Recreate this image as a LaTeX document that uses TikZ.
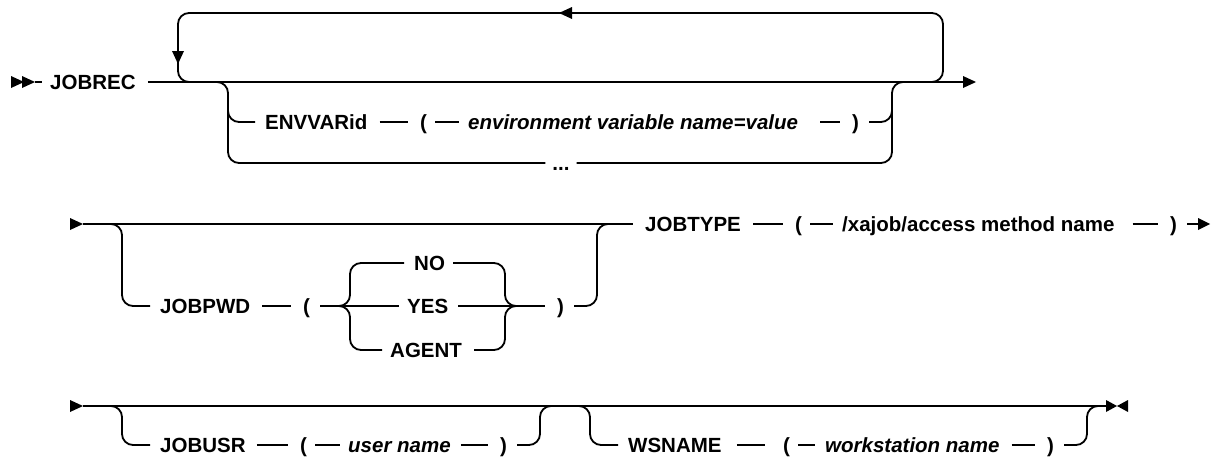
\documentclass[tikz,border=0pt]{standalone}
\usepackage{fontspec}
\setmainfont{Liberation Sans}
\begin{document}
\begin{tikzpicture}[x=1pt,y=-1pt,
  rail/.style={line width=1.8pt},
  rr/.style={rail,rounded corners=11pt},
  lbl/.style={anchor=west,inner sep=0pt,text height=14.7pt,text depth=0pt,font=\fontsize{20.5}{24}\selectfont\bfseries},
  var/.style={lbl,font=\fontsize{20.5}{24}\selectfont\bfseries\itshape}]
\useasboundingbox (0,0) rectangle (1211,458);
% ---------------- row 1
\node[lbl] (jobrec) at (50,82) {JOBREC};
\node[lbl] (envvar) at (265,122) {ENVVARid};
\node[lbl] (lp1) at (420,122) {(};
\node[var] (envval) at (468,122) {environment variable name=value};
\node[lbl] (rp1) at (852,122) {)};
\node[lbl,anchor=center] (dots) at (561,163) {...};
\coordinate (s1) at (35,82);
\coordinate (e1) at (963,82);
\fill (11,76) -- (24,82) -- (11,88) -- cycle;
\fill (22,76) -- (35,82) -- (22,88) -- cycle;
\draw[rail] (s1) -- ([xshift=-8pt]jobrec.west);
\draw[rail] ([xshift=12pt]jobrec.east) -- (e1);
\fill (963,76) -- (976,82) -- (963,88) -- cycle;
% repeat loop
\draw[rr] (925,82) -| (943,13) -| (178,82) -- (196,82);
\fill (559,13) -- (572,7) -- (572,19) -- cycle;
\fill (178,64) -- (172,51) -- (184,51) -- cycle;
% optional group
\draw[rr] (212,82) -| (228,163) -- ([xshift=-7pt]dots.west);
\draw[rr] (228,100) |- ([xshift=-10pt]envvar.west);
\draw[rail] ([xshift=12pt]envvar.east) -- ([xshift=-12pt]lp1.west);
\draw[rail] ([xshift=8pt]lp1.east) -- ([xshift=-9pt]envval.west);
\draw[rail] ([xshift=22pt]envval.east) -- ([xshift=-12pt]rp1.west);
\draw[rr] ([xshift=10pt]rp1.east) -| (892,100);
\draw[rr] ([xshift=7pt]dots.east) -| (892,82) -- (908,82);
% ---------------- row 2
\node[lbl] (jobpwd) at (160,306) {JOBPWD};
\node[lbl] (lp2) at (303,306) {(};
\node[lbl] (no) at (414,263) {NO};
\node[lbl] (yes) at (407,306) {YES};
\node[lbl] (agent) at (390,350) {AGENT};
\node[lbl] (rp2) at (557,306) {)};
\node[lbl] (jobtype) at (645,224) {JOBTYPE};
\node[lbl] (lp3) at (795,224) {(};
\node[lbl] (method) at (842,224) {/xajob/access method name};
\node[lbl] (rp3) at (1170,224) {)};
\coordinate (s2) at (83,224);
\coordinate (e2) at (1198,224);
\fill (70,218) -- (s2) -- (70,230) -- cycle;
\draw[rail] (s2) -- ([xshift=-12pt]jobtype.west);
\draw[rr] (108,224) -| (122,306) -- ([xshift=-10pt]jobpwd.west);
\draw[rail] ([xshift=12pt]jobpwd.east) -- ([xshift=-12pt]lp2.west);
\draw[rail] ([xshift=10pt]lp2.east) -- ([xshift=-8pt]yes.west);
\draw[rr] (336,306) -| (350,263) -- ([xshift=-10pt]no.west);
\draw[rr] (336,306) -| (350,350) -- ([xshift=-8pt]agent.west);
\draw[rr] ([xshift=8pt]no.east) -| (505,306) -- (520,306);
\draw[rr] ([xshift=12pt]agent.east) -| (505,306) -- (520,306);
\draw[rail] ([xshift=10pt]yes.east) -- ([xshift=-12pt]rp2.west);
\draw[rr] ([xshift=10pt]rp2.east) -| (597,224) -- (612,224);
\draw[rail] ([xshift=12pt]jobtype.east) -- ([xshift=-12pt]lp3.west);
\draw[rail] ([xshift=8pt]lp3.east) -- ([xshift=-9pt]method.west);
\draw[rail] ([xshift=18pt]method.east) -- ([xshift=-12pt]rp3.west);
\draw[rail] ([xshift=10pt]rp3.east) -- (e2);
\fill (1198,218) -- (1210,224) -- (1198,230) -- cycle;
% ---------------- row 3
\node[lbl] (jobusr) at (160,445) {JOBUSR};
\node[lbl] (lp4) at (300,445) {(};
\node[var] (user) at (348,445) {user name};
\node[lbl] (rp4) at (500,445) {)};
\node[lbl] (wsname) at (628,445) {WSNAME};
\node[lbl] (lp5) at (783,445) {(};
\node[var] (ws) at (825,445) {workstation name};
\node[lbl] (rp5) at (1047,445) {)};
\coordinate (s3) at (83,406);
\coordinate (e3) at (1106,406);
\fill (70,400) -- (s3) -- (70,412) -- cycle;
\draw[rail] (s3) -- (e3);
\fill (1106,400) -- (1117,406) -- (1106,412) -- cycle;
\fill (1128,400) -- (1117,406) -- (1128,412) -- cycle;
\draw[rr] (108,406) -| (122,445) -- ([xshift=-10pt]jobusr.west);
\draw[rail] ([xshift=11pt]jobusr.east) -- ([xshift=-12pt]lp4.west);
\draw[rail] ([xshift=8pt]lp4.east) -- ([xshift=-8pt]user.west);
\draw[rail] ([xshift=10pt]user.east) -- ([xshift=-12pt]rp4.west);
\draw[rr] ([xshift=10pt]rp4.east) -| (540,406) -- (555,406);
\draw[rr] (575,406) -| (590,445) -- ([xshift=-10pt]wsname.west);
\draw[rail] ([xshift=15pt]wsname.east) -- ([xshift=-18pt]lp5.west);
\draw[rail] ([xshift=8pt]lp5.east) -- ([xshift=-10pt]ws.west);
\draw[rail] ([xshift=12pt]ws.east) -- ([xshift=-12pt]rp5.west);
\draw[rr] ([xshift=10pt]rp5.east) -| (1087,406) -- (1100,406);
\end{tikzpicture}
\end{document}
